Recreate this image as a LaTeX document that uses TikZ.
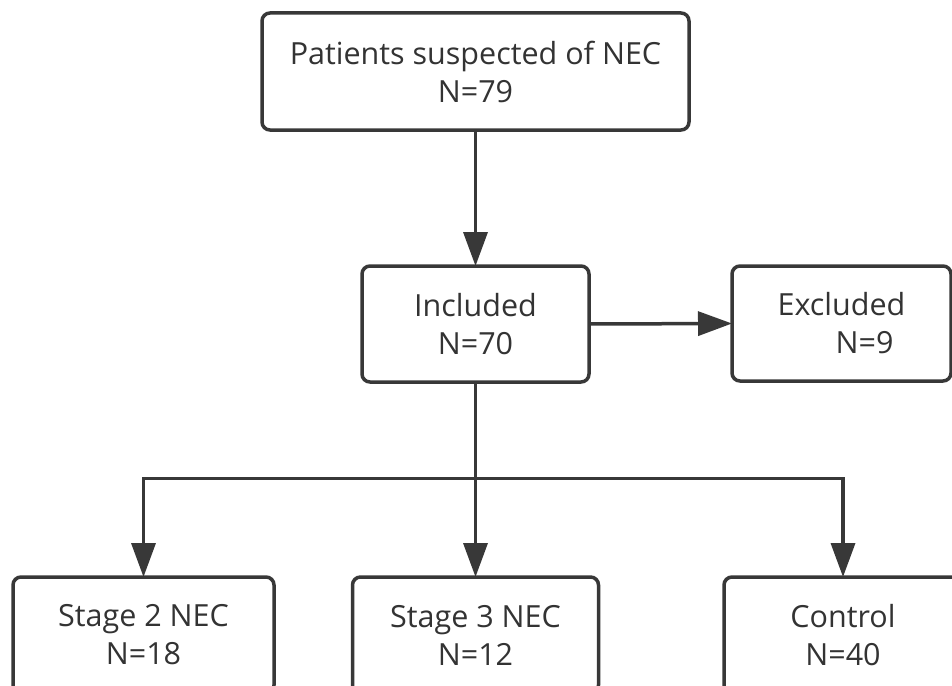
\documentclass[tikz,border=0pt]{standalone}
\usepackage{fontspec}
\setmainfont{Open Sans}
\usetikzlibrary{arrows.meta}
\definecolor{linec}{HTML}{383838}
\definecolor{textc}{HTML}{333333}
\tikzset{
  box/.style={draw=linec, line width=3.5pt, rounded corners=8pt, fill=white,
    inner sep=0pt, outer sep=0pt, align=center, text=textc,
    font=\fontsize{30.5}{38}\selectfont},
  conn/.style={draw=linec, line width=3.5pt, -{Triangle[length=34pt,width=24pt]}},
  plain/.style={draw=linec, line width=3.5pt}
}
\begin{document}
\begin{tikzpicture}[x=1pt,y=-1pt]
\useasboundingbox (0,0) rectangle (952,685);
\clip (0,0) rectangle (952,685);
\fill[white] (0,0) rectangle (952,685);
\node[box, minimum width=427pt, minimum height=117pt] (top) at (475.5,71.5) {Patients suspected of NEC\\N=79};
\node[box, minimum width=227pt, minimum height=116pt] (inc) at (475.5,324) {Included\\N=70};
\node[box, minimum width=219pt, minimum height=115pt] (exc) at (841.5,323.5) {Excluded\\\hspace*{46pt}N=9};
\node[box, minimum width=261pt, minimum height=116pt] (s2) at (143.5,635) {Stage 2 NEC\\N=18};
\node[box, minimum width=246pt, minimum height=116pt] (s3) at (475.5,635) {Stage 3 NEC\\N=12};
\node[box, minimum width=238pt, minimum height=116pt] (ctl) at (843,635) {Control\\N=40};
\coordinate (j) at (475.5,478.5);
\draw[conn] (top.south) -- (inc.north);
\draw[conn] (inc.east) -- (exc.west);
\draw[conn] (inc.south) -- (s3.north);
\draw[conn] (j) -| (s2.north);
\draw[conn] (j) -| (ctl.north);
\end{tikzpicture}
\end{document}
